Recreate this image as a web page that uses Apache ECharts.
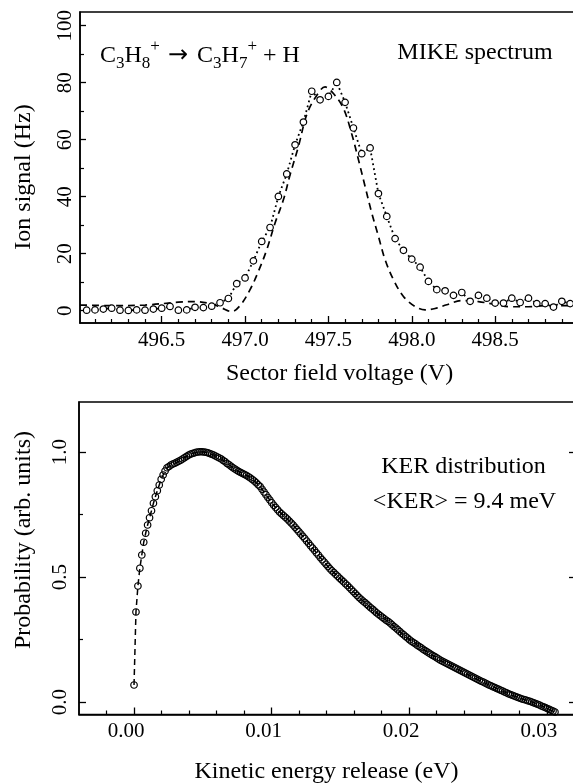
<!DOCTYPE html>
<html>
<head>
<meta charset="utf-8">
<script src="https://cdn.jsdelivr.net/npm/echarts@6/dist/echarts.min.js"></script>
<style>
html,body{margin:0;padding:0;background:#fff;}
#chart{width:573px;height:784px;}
</style>
</head>
<body>
<div id="chart"></div>
<script>
const FONT = '"Liberation Serif","Times New Roman",serif';

// ---------- Top panel: MIKE spectrum ----------
const mikeVoltage = [496.05,496.10,496.15,496.20,496.25,496.30,496.35,496.40,496.45,496.50,
  496.55,496.60,496.65,496.70,496.75,496.80,496.85,496.90,496.95,497.00,
  497.05,497.10,497.15,497.20,497.25,497.30,497.35,497.40,497.45,497.50,
  497.55,497.60,497.65,497.70,497.75,497.80,497.85,497.90,497.95,498.00,
  498.05,498.10,498.15,498.20,498.25,498.30,498.35,498.40,498.45,498.50,
  498.55,498.60,498.65,498.70,498.75,498.80,498.85,498.90,498.95];
const mikeSignal = [0.2,0.3,0.6,0.9,0.2,0.1,0.3,0.2,0.6,0.9,
  1.5,0.2,0.3,1.2,1.1,1.6,2.8,4.3,9.5,11.5,
  17.5,24.3,29.2,40.1,48.0,58.2,66.2,77.0,74.0,75.2,
  80.1,73.1,64.1,55.1,57.1,41.1,33.1,25.3,21.2,18.1,
  15.3,10.3,7.4,7.0,5.4,6.4,3.3,5.4,4.4,2.7,
  2.7,4.4,2.9,4.4,2.5,2.5,1.3,3.3,2.5];
const fitVoltage = [496.01,496.2,496.4,496.6,496.7,496.8,496.86,496.92,496.97,497.03,
  497.08,497.13,497.18,497.23,497.27,497.32,497.37,497.42,497.48,497.53,
  497.59,497.64,497.68,497.72,497.76,497.80,497.84,497.89,497.95,498.02,
  498.08,498.14,498.21,498.3,498.4,498.5,498.6,498.7,498.8,498.97];
const fitSignal = [2.0,1.8,2.0,3.0,3.2,2.4,1.0,-0.3,1.8,7.4,
  13.8,21.4,30.8,38.9,47.7,57.6,68.8,74.6,78.5,76.2,
  71.0,62.0,53.0,43.6,34.3,26.1,17.9,10.9,5.0,1.5,
  0.3,0.8,2.1,3.6,3.2,2.2,1.4,1.4,1.8,1.8];
const voltMajorTicks = [496.5,497.0,497.5,498.0,498.5];
const voltMinorTicks = [496.1,496.2,496.3,496.4,496.6,496.7,496.8,496.9,497.1,497.2,497.3,497.4,
  497.6,497.7,497.8,497.9,498.1,498.2,498.3,498.4,498.6,498.7,498.8,498.9];
const signalMajorTicks = [0,20,40,60,80,100];
const signalMinorTicks = [10,30,50,70,90];

// ---------- Bottom panel: KER distribution ----------
const kerStep = 0.000141; // uniform energy grid spacing (eV)
const kerProb = [0.068,0.36,0.464,0.535,0.588,0.639,0.675,0.708,0.737,0.765,0.795,0.821,0.845,0.868,0.891,0.908,0.924,0.937,
  0.942,0.948,0.952,0.955,0.959,0.963,0.967,0.972,0.977,0.982,
  0.987,0.991,0.994,0.996,0.999,1.000,1.001,1.001,1.000,0.999,
  0.997,0.994,0.991,0.988,0.984,0.980,0.976,0.972,0.966,0.961,
  0.954,0.949,0.943,0.937,0.932,0.927,0.922,0.918,0.914,0.910,
  0.906,0.901,0.896,0.890,0.884,0.877,0.869,0.862,0.851,0.840,
  0.829,0.818,0.808,0.797,0.787,0.778,0.769,0.760,0.753,0.746,
  0.739,0.732,0.724,0.716,0.708,0.699,0.690,0.681,0.672,0.663,
  0.654,0.644,0.635,0.625,0.616,0.607,0.597,0.588,0.578,0.569,
  0.560,0.551,0.542,0.533,0.525,0.518,0.510,0.503,0.495,0.488,
  0.481,0.473,0.466,0.458,0.450,0.442,0.434,0.426,0.418,0.411,
  0.404,0.398,0.391,0.384,0.377,0.371,0.364,0.357,0.351,0.345,
  0.339,0.333,0.327,0.322,0.316,0.309,0.302,0.296,0.289,0.282,
  0.275,0.269,0.262,0.256,0.249,0.243,0.238,0.233,0.227,0.222,
  0.217,0.211,0.206,0.201,0.196,0.191,0.186,0.182,0.177,0.172,
  0.167,0.163,0.159,0.155,0.151,0.147,0.143,0.139,0.135,0.131,
  0.127,0.123,0.119,0.115,0.111,0.107,0.103,0.099,0.095,0.091,
  0.087,0.083,0.080,0.076,0.072,0.068,0.065,0.061,0.058,0.054,
  0.051,0.047,0.044,0.040,0.037,0.033,0.030,0.027,0.024,0.021,
  0.018,0.015,0.012,0.010,0.008,0.005,0.003,0.000,-0.003,-0.006,
  -0.009,-0.012,-0.016,-0.019,-0.022,-0.026,-0.029,-0.033,-0.036,-0.040];
const kerMajorTicks = [0.00,0.01,0.02,0.03];
const kerMinorTicks = [-0.002,0.002,0.004,0.006,0.008,0.012,0.014,0.016,0.018,0.022,0.024,0.026,0.028,0.030];
const probMajorTicks = [0.0,0.5,1.0];
const probMinorTicks = [0.25,0.75];

const chart = echarts.init(document.getElementById('chart'), null, {renderer:'canvas'});

const labelStyle = {color:'#000', fontFamily:FONT, fontSize:21};
function majorAxis(extra) {
  return Object.assign({
    type:'value', splitLine:{show:false},
    axisLine:{show:true, onZero:false, lineStyle:{color:'#000', width:1.5}},
    axisTick:{show:true, inside:true, length:7, lineStyle:{color:'#000', width:1.3}},
  }, extra);
}
function minorAxis(extra) {
  return Object.assign({
    type:'value', splitLine:{show:false},
    axisLine:{show:false, onZero:false},
    axisLabel:{show:false},
    axisTick:{show:true, inside:true, length:4, lineStyle:{color:'#000', width:1.2}},
  }, extra);
}

const xTop = {min:496.01, max:498.973};
const yTop = {min:-4.3, max:104.8};
const xBot = {min:-0.004, max:0.03198};
const yBot = {min:-0.05, max:1.2};

const option = {
  animation:false,
  backgroundColor:'#fff',
  grid:[
    {left:80, top:12, width:494, height:311, show:true, borderColor:'#000', borderWidth:1.5, outerBoundsMode:'none', containLabel:false},
    {left:79, top:402, width:495, height:312.5, show:true, borderColor:'#000', borderWidth:1.5, outerBoundsMode:'none', containLabel:false}
  ],
  xAxis:[
    majorAxis(Object.assign({gridIndex:0, position:'bottom',
      axisTick:{show:true, inside:true, length:7, customValues:voltMajorTicks, lineStyle:{color:'#000', width:1.3}},
      axisLabel:Object.assign({customValues:voltMajorTicks, margin:7, formatter:v=>Number(v).toFixed(1)}, labelStyle)}, xTop)),
    minorAxis(Object.assign({gridIndex:0, position:'bottom',
      axisTick:{show:true, inside:true, length:4, customValues:voltMinorTicks, lineStyle:{color:'#000', width:1.2}}}, xTop)),
    majorAxis(Object.assign({gridIndex:1, position:'bottom',
      axisTick:{show:true, inside:true, length:7, customValues:kerMajorTicks, lineStyle:{color:'#000', width:1.3}},
      axisLabel:Object.assign({customValues:kerMajorTicks, margin:6, padding:[0,16,0,0], formatter:v=>Number(v).toFixed(2)}, labelStyle)}, xBot)),
    minorAxis(Object.assign({gridIndex:1, position:'bottom',
      axisTick:{show:true, inside:true, length:4, customValues:kerMinorTicks, lineStyle:{color:'#000', width:1.2}}}, xBot))
  ],
  yAxis:[
    majorAxis(Object.assign({gridIndex:0, position:'left',
      axisTick:{show:true, inside:true, length:6, customValues:signalMajorTicks, lineStyle:{color:'#000', width:1.3}},
      axisLabel:Object.assign({customValues:signalMajorTicks, rotate:90, margin:4, formatter:v=>String(Math.round(v))}, labelStyle)}, yTop)),
    minorAxis(Object.assign({gridIndex:0, position:'left',
      axisTick:{show:true, inside:true, length:4, customValues:signalMinorTicks, lineStyle:{color:'#000', width:1.2}}}, yTop)),
    majorAxis(Object.assign({gridIndex:1, position:'left',
      axisTick:{show:true, inside:true, length:7, customValues:probMajorTicks, lineStyle:{color:'#000', width:1.3}},
      axisLabel:Object.assign({customValues:probMajorTicks, rotate:90, margin:8, formatter:v=>Number(v).toFixed(1)}, labelStyle)}, yBot)),
    minorAxis(Object.assign({gridIndex:1, position:'left',
      axisTick:{show:true, inside:true, length:4, customValues:probMinorTicks, lineStyle:{color:'#000', width:1.2}}}, yBot)),
    minorAxis(Object.assign({gridIndex:1, position:'right',
      axisTick:{show:true, inside:true, length:5, customValues:probMajorTicks, lineStyle:{color:'#000', width:1.3}}}, yBot))
  ],
  series:[
    {
      type:'line', xAxisIndex:0, yAxisIndex:0, z:2,
      data: fitVoltage.map((v,i)=>[v, fitSignal[i]]),
      smooth:0.35, symbol:'none',
      lineStyle:{color:'#000', width:1.7, type:[7,5]}
    },
    {
      type:'line', xAxisIndex:0, yAxisIndex:0, z:3,
      data: mikeVoltage.map((v,i)=>[v, mikeSignal[i]]),
      symbol:'circle', symbolSize:6.5, showSymbol:true,
      itemStyle:{color:'#fff', borderColor:'#000', borderWidth:1.2},
      lineStyle:{color:'#000', width:1.8, type:[1.8,3.2]}
    },
    {
      type:'line', xAxisIndex:2, yAxisIndex:2, z:3,
      data: kerProb.map((p,i)=>[i*kerStep, p]),
      symbol:'circle', symbolSize:6.5, showSymbol:true,
      itemStyle:{color:'rgba(255,255,255,0)', borderColor:'#000', borderWidth:1.2},
      lineStyle:{color:'#000', width:1.5, type:[6,4]}
    }
  ],
  graphic:[
    {type:'text', x:24, y:177, rotation:Math.PI/2,
      style:{text:'Ion signal (Hz)', fill:'#000', fontFamily:FONT, fontSize:24, align:'center', verticalAlign:'middle', textAlign:'center', textVerticalAlign:'middle'}},
    {type:'text', x:339.5, y:374,
      style:{text:'Sector field voltage (V)', fill:'#000', fontFamily:FONT, fontSize:24, align:'center', verticalAlign:'middle', textAlign:'center', textVerticalAlign:'middle'}},
    {type:'text', x:24, y:540, rotation:Math.PI/2,
      style:{text:'Probability (arb. units)', fill:'#000', fontFamily:FONT, fontSize:24, align:'center', verticalAlign:'middle', textAlign:'center', textVerticalAlign:'middle'}},
    {type:'text', x:326.5, y:772,
      style:{text:'Kinetic energy release (eV)', fill:'#000', fontFamily:FONT, fontSize:24, align:'center', verticalAlign:'middle', textAlign:'center', textVerticalAlign:'middle'}},
    {type:'text', x:475, y:53,
      style:{text:'MIKE spectrum', fill:'#000', fontFamily:FONT, fontSize:24, align:'center', verticalAlign:'middle', textAlign:'center', textVerticalAlign:'middle'}},
    {type:'text', x:100, y:56,
      style:{
        text:'{m|C}{s|3}{m|H}{s|8}{p|+}{m| }{a|\u2192}{m| C}{s|3}{m|H}{s|7}{p|+}{m| + H}',
        fill:'#000', align:'left', verticalAlign:'middle', textAlign:'left', textVerticalAlign:'middle',
        rich:{
          m:{fontFamily:FONT, fontSize:24, fill:'#000', color:'#000'},
          a:{fontFamily:'"DejaVu Sans",sans-serif', fontSize:24, fill:'#000', color:'#000', padding:[0,3,0,2]},
          s:{fontFamily:FONT, fontSize:17, fill:'#000', color:'#000', padding:[16,0,0,0]},
          p:{fontFamily:FONT, fontSize:17, fill:'#000', color:'#000', padding:[0,0,18,0]}
        }
      }},
    {type:'text', x:463.5, y:467,
      style:{text:'KER distribution', fill:'#000', fontFamily:FONT, fontSize:24, align:'center', verticalAlign:'middle', textAlign:'center', textVerticalAlign:'middle'}},
    {type:'text', x:464.5, y:502,
      style:{text:'<KER> = 9.4 meV', fill:'#000', fontFamily:FONT, fontSize:24, align:'center', verticalAlign:'middle', textAlign:'center', textVerticalAlign:'middle'}}
  ]
};
chart.setOption(option);
</script>
</body>
</html>
